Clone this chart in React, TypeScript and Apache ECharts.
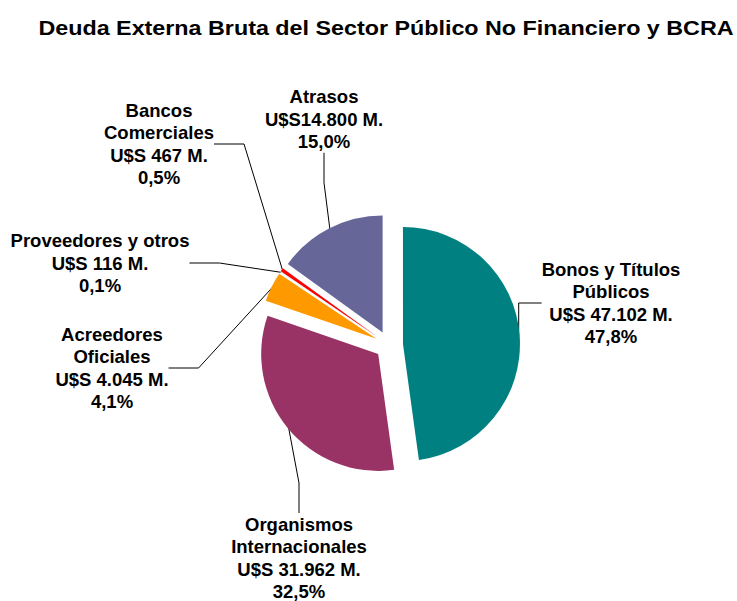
import React, { useEffect, useRef } from "react";
import * as echarts from "echarts";

const titleText = "Deuda Externa Bruta del Sector Público No Financiero y BCRA";
const categories = [
  "Bonos y Títulos\nPúblicos",
  "Organismos\nInternacionales",
  "Acreedores\nOficiales",
  "Proveedores y otros",
  "Bancos\nComerciales",
  "Atrasos",
];
const values = [47102, 31962, 4045, 116, 467, 14800];
const valueLabels = [
  "U$S 47.102 M.",
  "U$S 31.962 M.",
  "U$S 4.045 M.",
  "U$S 116 M.",
  "U$S 467 M.",
  "U$S14.800 M.",
];
const colors = ["#008080", "#993366", "#FF9900", "#CCFFFF", "#FF0000", "#666699"];

// label centre positions (layout only)
const labelPositions: [number, number][] = [
  [611, 303],
  [299, 558],
  [112, 368],
  [100, 263],
  [159, 144],
  [324, 119],
];

const FONT = "Liberation Sans, Arial, sans-serif";

export default function App() {
  const ref = useRef<HTMLDivElement>(null);
  useEffect(() => {
    if (!ref.current) return;
    const chart = echarts.init(ref.current, undefined, { renderer: "svg" });
    const total = values.reduce((a, b) => a + b, 0);
    const sliceData = categories.map((name, i) => ({
      name,
      value: values[i],
      selected: true,
      itemStyle: { color: colors[i] },
    }));
    const labelData = categories.map((name, i) => ({
      name,
      value: values[i],
    }));
    chart.setOption({
      animation: false,
      backgroundColor: "#ffffff",
      graphic: [
        {
          type: "text",
          x: 386,
          y: 28,
          scaleX: 1.11,
          originX: 0,
          silent: true,
          style: {
            text: titleText,
            font: `bold 21px ${FONT}`,
            fill: "#000",
            textAlign: "center",
            textVerticalAlign: "middle",
          },
        },
      ],
      series: [
        {
          type: "pie",
          center: [389, 345],
          radius: 117,
          startAngle: 90,
          clockwise: true,
          selectedMode: "multiple",
          selectedOffset: 14,
          silent: true,
          emphasis: { disabled: true },
          data: sliceData,
          label: { show: false },
          labelLine: { show: false },
        },
        {
          type: "pie",
          center: [389, 345],
          radius: 130,
          startAngle: 90,
          clockwise: true,
          silent: true,
          avoidLabelOverlap: false,
          emphasis: { disabled: true },
          itemStyle: { color: "rgba(0,0,0,0)", borderWidth: 0 },
          data: labelData,
          label: {
            show: true,
            position: "outside",
            fontFamily: FONT,
            fontSize: 18.5,
            fontWeight: "bold",
            lineHeight: 22.5,
            color: "#000",
            align: "center",
            formatter: (p: any) => {
              const pct = ((values[p.dataIndex] / total) * 100).toFixed(1).replace(".", ",");
              return `${p.name}\n${valueLabels[p.dataIndex]}\n${pct}%`;
            },
          },
          labelLine: {
            show: true,
            lineStyle: { color: "#000", width: 1 },
          },
          labelLayout: (params: any) => {
            const p = labelPositions[params.dataIndex];
            return {
              x: p[0],
              y: p[1],
              align: "center",
              verticalAlign: "middle",
            };
          },
        },
      ],
    });
    return () => chart.dispose();
  }, []);
  return (
    <div
      ref={ref}
      style={{ position: "absolute", left: 0, top: 0, width: 737, height: 601 }}
    />
  );
}
